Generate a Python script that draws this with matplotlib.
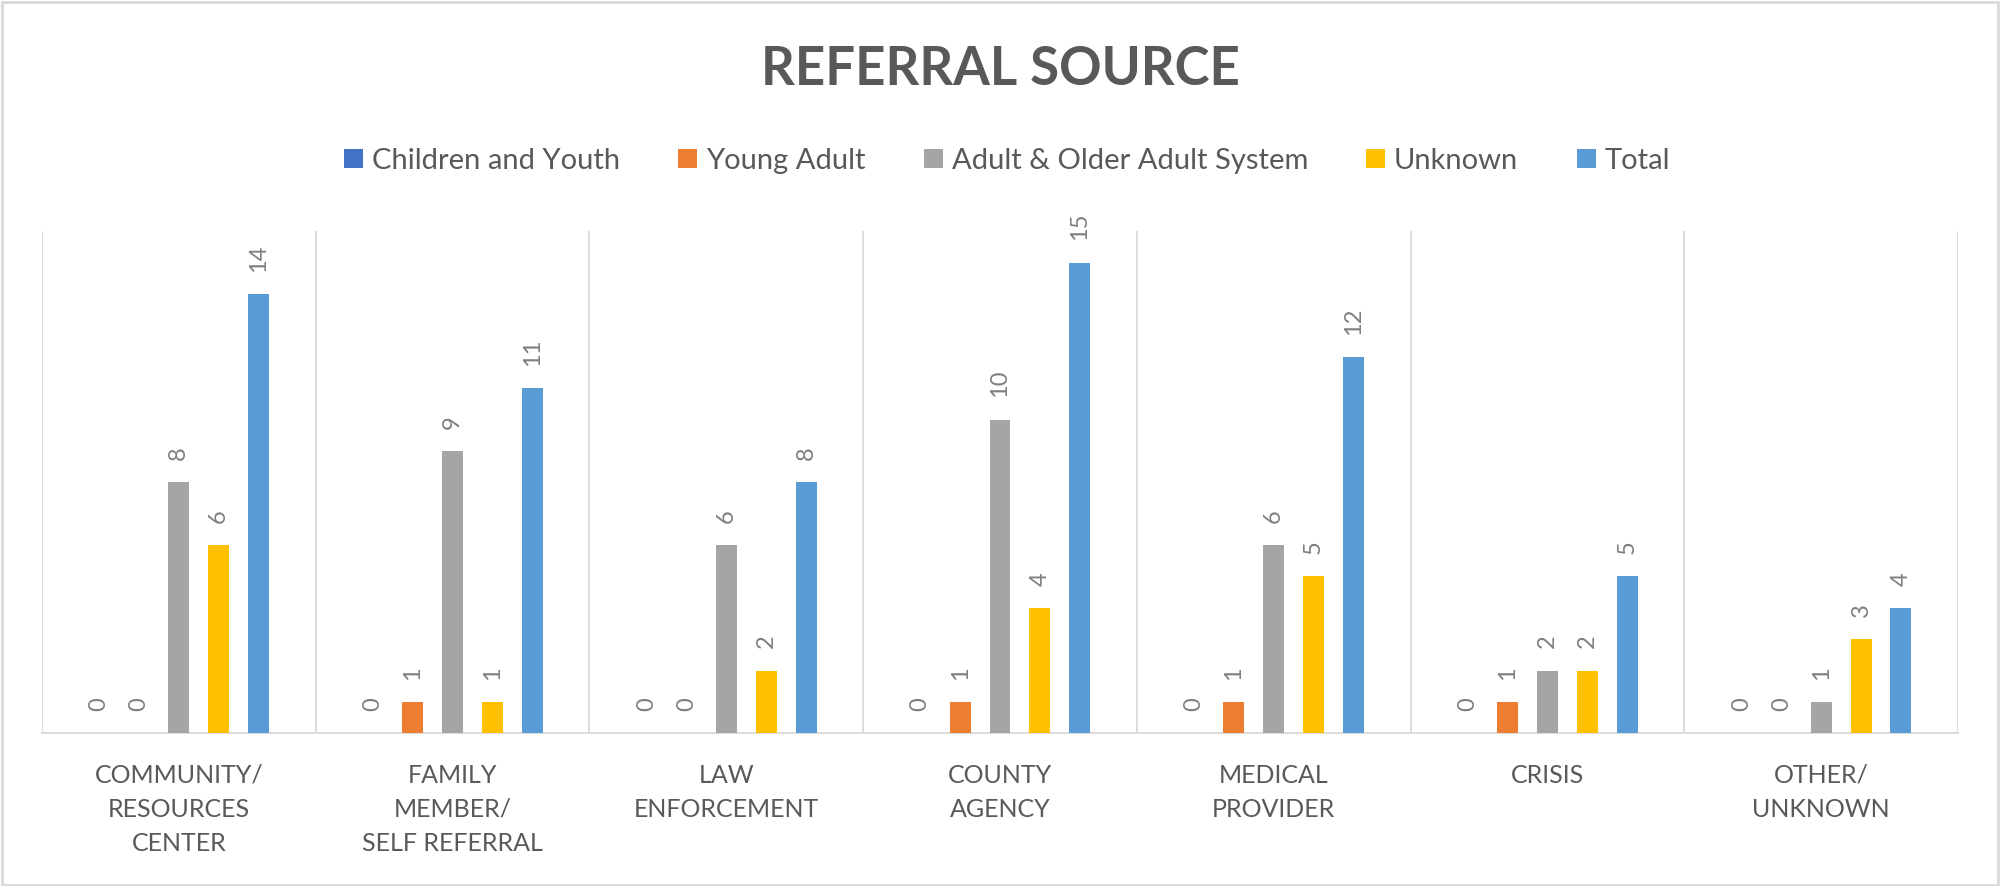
import matplotlib.pyplot as plt
from matplotlib.patches import Rectangle
import numpy as np

# data
categories = ["COMMUNITY/\nRESOURCES\nCENTER", "FAMILY\nMEMBER/\nSELF REFERRAL",
              "LAW\nENFORCEMENT", "COUNTY\nAGENCY", "MEDICAL\nPROVIDER",
              "CRISIS", "OTHER/\nUNKNOWN"]
series_names = ["Children and Youth", "Young Adult", "Adult & Older Adult System",
                "Unknown", "Total"]
children_youth = [0, 0, 0, 0, 0, 0, 0]
young_adult = [0, 1, 0, 1, 1, 1, 0]
adult_older = [8, 9, 6, 10, 6, 2, 1]
unknown = [6, 1, 2, 4, 5, 2, 3]
total = [14, 11, 8, 15, 12, 5, 4]

colors = ["#4472C4", "#ED7D31", "#A5A5A5", "#FFC000", "#5B9BD5"]

plt.rcParams['font.family'] = ['Lato', 'DejaVu Sans']

fig = plt.figure(figsize=(20, 8.86), dpi=100)
ax = fig.add_axes([0.021, 0.1723, 0.958, 0.5666])

x = np.arange(len(categories))
step = 0.1457
width = 0.0767
all_series = [children_youth, young_adult, adult_older, unknown, total]

for i, (vals, name, col) in enumerate(zip(all_series, series_names, colors)):
    pos = x + (i - 2) * step
    ax.bar(pos, vals, width, color=col, label=name, zorder=3)
    for px, v in zip(pos, vals):
        ax.annotate(str(v), (px, v), xytext=(0, 16), textcoords="offset points",
                    rotation=90, ha="center", va="bottom", fontsize=17,
                    color="#7f7f7f")

ax.set_xlim(-0.5, len(categories) - 0.5)
ax.set_ylim(0, 16)

# category separators
for b in np.arange(-0.5, len(categories), 1.0):
    ax.axvline(b, color="#d9d9d9", lw=1.3, zorder=1)

for s in ["top", "right", "left"]:
    ax.spines[s].set_visible(False)
ax.spines["bottom"].set_color("#d9d9d9")
ax.spines["bottom"].set_linewidth(1.3)
ax.set_yticks([])
ax.set_xticks(x)
ax.set_xticklabels(categories, fontsize=18, color="#595959", linespacing=1.58)
ax.tick_params(axis="x", length=0, pad=22)

fig.text(0.5, 0.922, "REFERRAL SOURCE", ha="center", va="center",
         fontsize=38, fontweight="bold", color="#595959")

leg = fig.legend(loc="center", bbox_to_anchor=(0.5035, 0.8185), ncol=5,
                 frameon=False, fontsize=21, handlelength=0.65, handleheight=0.62,
                 handletextpad=0.3, columnspacing=2.0)
for t in leg.get_texts():
    t.set_color("#595959")

fig.patches.append(Rectangle((0.001, 0.001), 0.998, 0.997, transform=fig.transFigure,
                             fill=False, edgecolor="#d9d9d9", lw=2))

fig.savefig("out.png", dpi=100)
